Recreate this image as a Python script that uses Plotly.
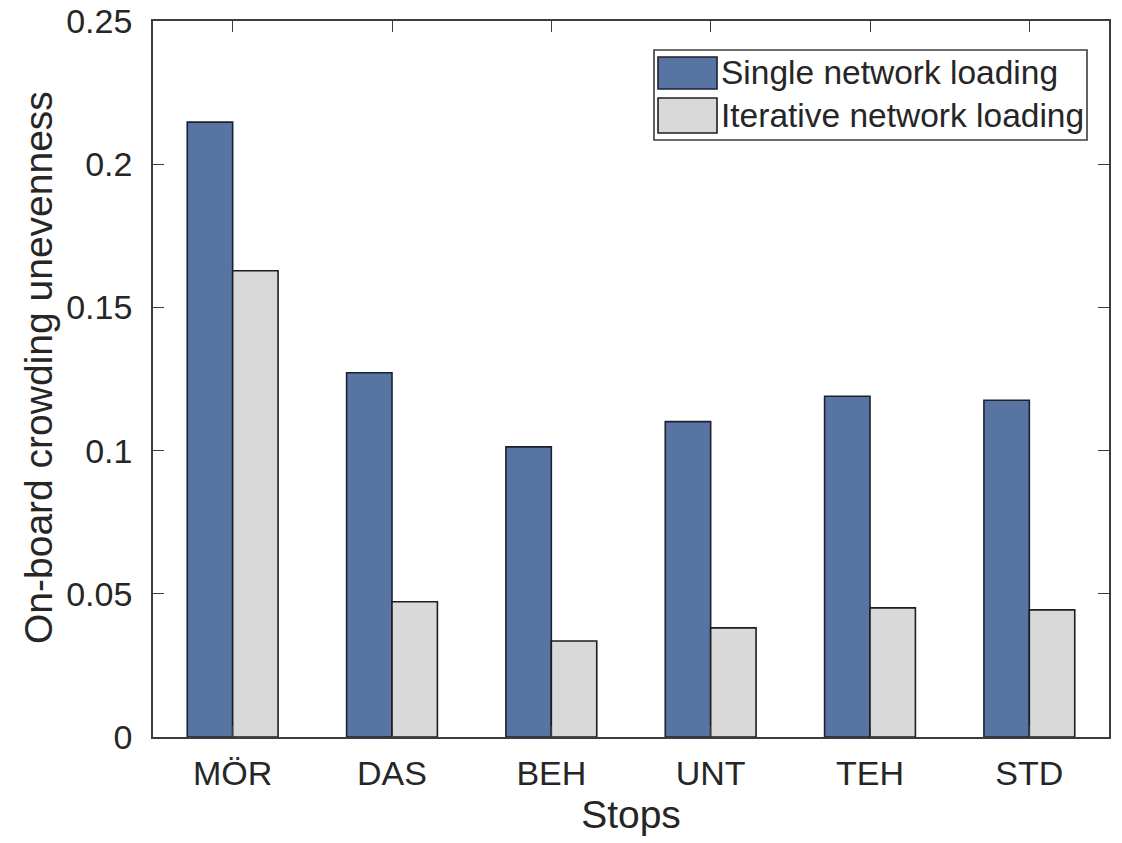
import plotly.graph_objects as go

# Stops along the line and the crowding unevenness under each loading approach
stops = ["MÖR", "DAS", "BEH", "UNT", "TEH", "STD"]
single_loading = [0.2147, 0.1272, 0.1013, 0.1101, 0.1190, 0.1176]
iterative_loading = [0.1628, 0.0472, 0.0335, 0.0381, 0.0451, 0.0444]

series_names = ["Single network loading", "Iterative network loading"]
y_tick_values = [0, 0.05, 0.1, 0.15, 0.2, 0.25]
y_tick_labels = ["0", "0.05", "0.1", "0.15", "0.2", "0.25"]

BLUE = "#5774a2"
GREY = "#d9d9d9"
EDGE = "#1a2233"
AXIS = "#3c3c3c"
TEXT = "#262626"
FONT = "Liberation Sans, Arial, Helvetica, sans-serif"

W, H = 1122, 843
L, R, T, B = 153, 13, 21, 106

fig = go.Figure()
fig.add_trace(go.Bar(
    x=stops, y=single_loading, name=series_names[0],
    marker=dict(color=BLUE, line=dict(color=EDGE, width=1.6)),
    showlegend=False,
))
fig.add_trace(go.Bar(
    x=stops, y=iterative_loading, name=series_names[1],
    marker=dict(color=GREY, line=dict(color="#1e1e1e", width=1.6)),
    showlegend=False,
))

fig.update_layout(
    width=W, height=H,
    margin=dict(l=L, r=R, t=T, b=B, autoexpand=False),
    paper_bgcolor="white", plot_bgcolor="white",
    barmode="group", bargap=0.43, bargroupgap=0.0,
    font=dict(family=FONT, color=TEXT, size=34),
)

fig.update_xaxes(
    type="category", range=[-0.5, 5.5],
    showline=True, linecolor=AXIS, linewidth=1.6, mirror="ticks",
    ticks="inside", ticklen=11, tickwidth=1.4, tickcolor=AXIS,
    tickfont=dict(size=34, family=FONT, color=TEXT),
    ticklabelstandoff=5,
    showgrid=False, zeroline=False,
    title=dict(text="Stops", font=dict(size=39, family=FONT, color=TEXT), standoff=10),
)
fig.update_yaxes(
    range=[0, 0.25],
    tickvals=y_tick_values, ticktext=y_tick_labels,
    showline=True, linecolor=AXIS, linewidth=1.6, mirror="ticks",
    ticks="inside", ticklen=11, tickwidth=1.4, tickcolor=AXIS,
    tickfont=dict(size=34, family=FONT, color=TEXT),
    ticklabelstandoff=12,
    showgrid=False, zeroline=False,
)

# Pixel positions converted to paper coordinates for the legend and y label
pw, ph = W - L - R, H - T - B


def px(xp):
    return (xp - L) / pw


def py(yp):
    return (H - B - yp) / ph


fig.add_annotation(xref="paper", yref="paper", x=px(38), y=py(368),
                   xanchor="center", yanchor="middle", showarrow=False,
                   textangle=-90, text="On-board crowding unevenness",
                   font=dict(size=39, family=FONT, color=TEXT))

fig.add_shape(type="rect", xref="paper", yref="paper",
              x0=px(654), x1=px(1087), y0=py(140), y1=py(50),
              line=dict(color=AXIS, width=1.6), fillcolor="white", layer="above")
swatches = [(57, 89, BLUE, EDGE), (98, 133, GREY, "#1e1e1e")]
for (top, bottom, fill, edge), label in zip(swatches, series_names):
    fig.add_shape(type="rect", xref="paper", yref="paper",
                  x0=px(658), x1=px(717), y0=py(bottom), y1=py(top),
                  line=dict(color=edge, width=1.6), fillcolor=fill, layer="above")
    fig.add_annotation(xref="paper", yref="paper",
                       x=px(719), y=py((top + bottom) / 2),
                       xanchor="left", yanchor="middle", showarrow=False,
                       text=label, font=dict(size=33.5, family=FONT, color=TEXT))

fig.write_html("out.html")
